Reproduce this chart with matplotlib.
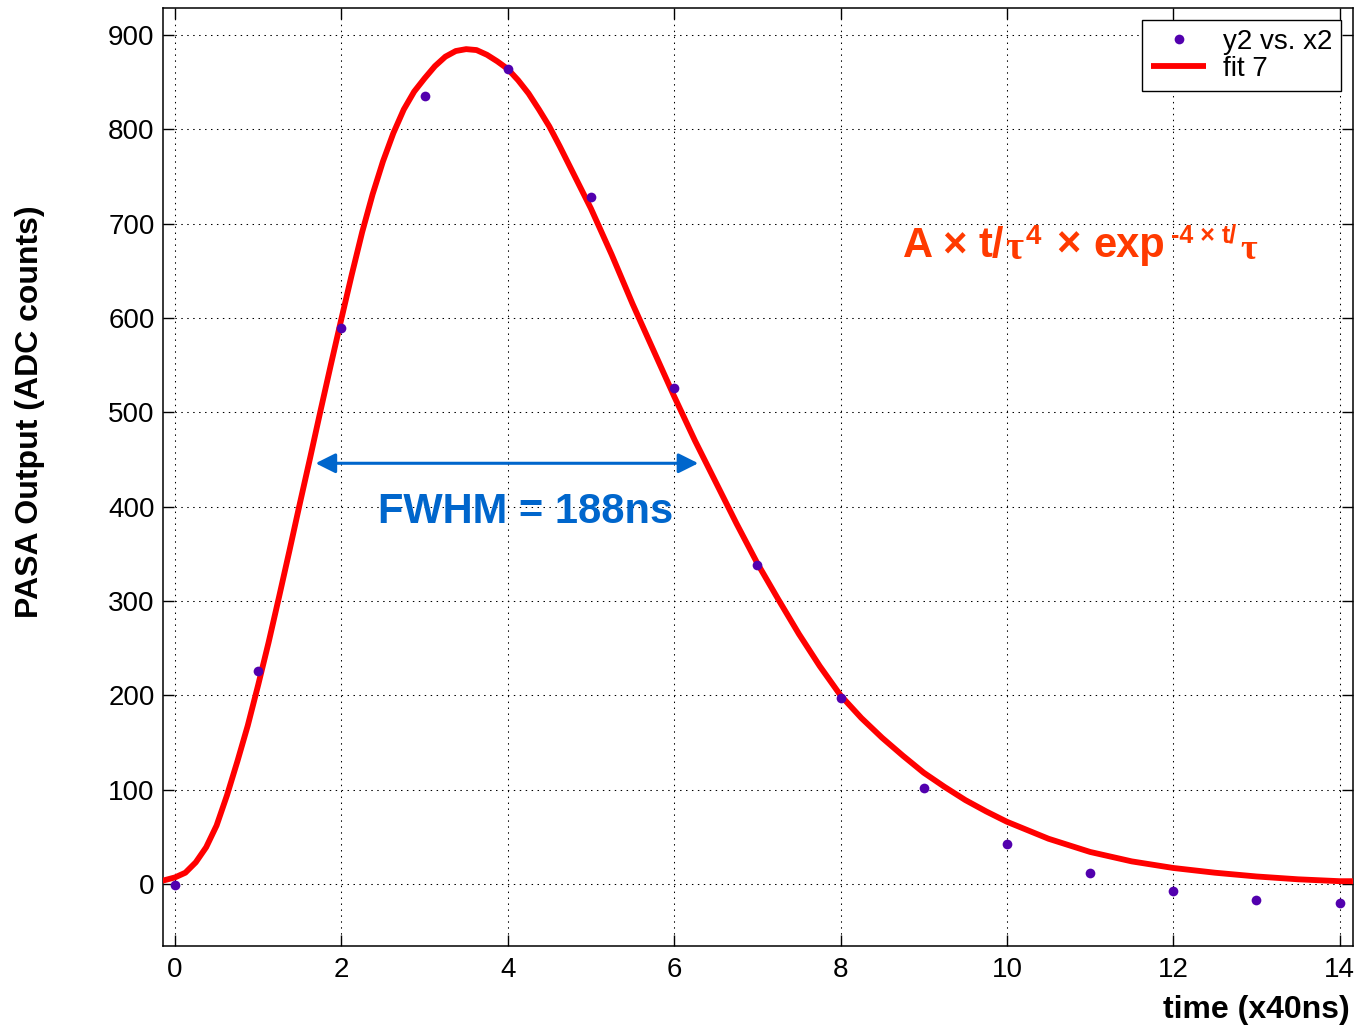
import numpy as np
import matplotlib.pyplot as plt

plt.rcParams['font.family'] = ['Liberation Sans', 'DejaVu Sans']

# ADC samples of the PASA pulse (one sample per 40 ns)
x2 = np.arange(15)
y2 = [-1, 226, 589, 835, 864, 728, 526, 338, 197, 102, 42, 12, -7, -17, -20]

# fitted shaper curve (fit 7)
fit_t = [-0.15, 0.0, 0.125, 0.25, 0.375, 0.5, 0.625, 0.75, 0.875, 1.0,
         1.125, 1.25, 1.375, 1.5, 1.625, 1.75, 1.875, 2.0, 2.125, 2.25,
         2.375, 2.5, 2.625, 2.75, 2.875, 3.0, 3.125, 3.25, 3.375, 3.5,
         3.625, 3.75, 3.875, 4.0, 4.125, 4.25, 4.375, 4.5, 4.625, 4.75,
         4.875, 5.0, 5.25, 5.5, 5.75, 6.0, 6.25, 6.5, 6.75, 7.0,
         7.25, 7.5, 7.75, 8.0, 8.25, 8.5, 8.75, 9.0, 9.25, 9.5,
         9.75, 10.0, 10.5, 11.0, 11.5, 12.0, 12.5, 13.0, 13.5, 14.0, 14.2]
fit_y = [3.5, 7, 12, 23, 39, 62, 94, 130, 168, 211,
         256, 304, 353, 403, 452, 502, 551, 599, 646, 691,
         731, 766, 796, 821, 840, 854, 867, 877, 883, 885,
         884, 879, 872, 864, 852, 838, 821, 803, 782, 760,
         738, 716, 667, 615, 566, 517, 470, 426, 382, 340,
         302, 265, 231, 200, 176, 155, 136, 118, 103, 89,
         77, 66, 48, 34, 24, 17, 12, 8, 5, 3, 3]

# FWHM marker: left/right crossing of half maximum
fwhm_t = (1.69, 6.29)
fwhm_level = 446

W, H = 1356, 1030
fig = plt.figure(figsize=(W / 100, H / 100), dpi=100)
ax = fig.add_axes([163 / W, 84 / H, 1190 / W, 938 / H])

ax.plot(fit_t, fit_y, color='#ff0000', lw=4.2, label='fit 7', zorder=3,
        solid_joinstyle='round', solid_capstyle='butt')
ax.plot(x2, y2, 'o', color='#5200ae', ms=7, mec='none', label='y2 vs. x2', zorder=4)

ax.set_xlim(-0.144, 14.16)
ax.set_ylim(-65.7, 928.6)
ax.set_xticks(np.arange(0, 15, 2))
ax.set_yticks(np.arange(0, 901, 100))
ax.tick_params(direction='in', length=8, width=1, labelsize=20, pad=6,
               top=True, right=True)
ax.tick_params(axis='x', pad=8)
ax.grid(True, color='black', lw=0.75, linestyle=(0, (1.4, 4.3)))
for s in ax.spines.values():
    s.set_linewidth(1.1)

# legend: dots first, then the fit line
h, l = ax.get_legend_handles_labels()
leg = ax.legend(h[::-1], l[::-1], loc='upper right', fontsize=20, fancybox=False,
                framealpha=1, edgecolor='black', borderaxespad=0.42,
                handlelength=2.0, handletextpad=0.6, labelspacing=0.05,
                borderpad=0.32, numpoints=1)
leg.get_frame().set_linewidth(1.0)

ax.annotate('', xy=(fwhm_t[0], fwhm_level), xytext=(fwhm_t[1], fwhm_level),
            arrowprops=dict(arrowstyle='<|-|>,head_length=0.6,head_width=0.3',
                            mutation_scale=20, color='#0066cc', lw=2.2,
                            shrinkA=0, shrinkB=0), zorder=5)
ax.text(2.44, 383, 'FWHM = 188ns', color='#0066cc', fontsize=30,
        fontweight='bold', ha='left', va='baseline', zorder=5)

# shaping function, laid out piece by piece (text, size, raise in px, family, weight)
formula = [('A ×', 30, 0, 'Liberation Sans', 'bold'),
           ('t/', 30, 0, 'Liberation Sans', 'bold'),
           ('τ', 28, -2, 'Liberation Serif', 'bold'),
           ('4', 20, 13, 'Liberation Sans', 'bold'),
           ('×', 30, 0, 'Liberation Sans', 'bold'),
           ('exp', 30, 0, 'Liberation Sans', 'bold'),
           ('-4 ×', 18, 14, 'Liberation Sans', 'bold'),
           ('t/', 18, 14, 'Liberation Sans', 'bold'),
           ('τ', 26, -2, 'Liberation Serif', 'bold')]
gaps = [11, 1, 3, 15, 13, 6, 7, 3, 0]
renderer = fig.canvas.get_renderer()
fx, fy = ax.transData.transform((8.75, 665))
for (txt, size, dy, fam, wt), gap in zip(formula, gaps):
    t = fig.text(fx / W, (fy + dy) / H, txt, color='#ff3a00', fontsize=size,
                 fontweight=wt, family=fam, ha='left', va='baseline')
    fx = t.get_window_extent(renderer).x1 + gap

fig.text(30 / W, 1 - 412 / H, 'PASA Output (ADC counts)', rotation=90,
         fontsize=23, fontweight='bold', ha='center', va='center')
fig.text(1350 / W, 1 - 1010 / H, 'time (x40ns)', fontsize=23,
         fontweight='bold', ha='right', va='center')

fig.savefig('out.png', dpi=100)
